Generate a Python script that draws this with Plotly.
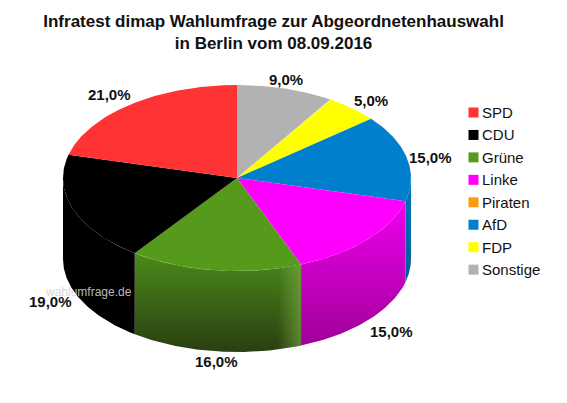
import numpy as np
import plotly.graph_objects as go

# Data (legend order)
parties = ["SPD", "CDU", "Grüne", "Linke", "Piraten", "AfD", "FDP", "Sonstige"]
values = [21.0, 19.0, 16.0, 15.0, 0.0, 15.0, 5.0, 9.0]
colors = ["#FF3333", "#000000", "#559A1A", "#FF00FF", "#FF9911", "#0080CC", "#FFFF00", "#B2B2B2"]
wall_top = {"Grüne": "#4B8A1A", "Linke": "#EE00EE", "AfD": "#0078BE", "CDU": "#000000"}
wall_bottom = {"Grüne": "#2A3F10", "Linke": "#A00098", "AfD": "#005E96", "CDU": "#000000"}

title_text = "Infratest dimap Wahlumfrage zur Abgeordnetenhauswahl<br>in Berlin vom 08.09.2016"
watermark = "wahlumfrage.de"

# Pie geometry in the pixel-like axis space
CX, CY, RX, RY, DEPTH = 237.0, 178.0, 174.0, 93.0, 81.0
# Label nudges from the rim point of each slice
NUDGE = {"SPD": (-21, -10), "CDU": (-23, 11), "Grüne": (1, 10), "Linke": (24, 11),
         "AfD": (24, 0), "FDP": (19, -8), "Sonstige": (0, -9)}
# Legend key placement
KEY_X, KEY_Y, KEY_ROW, KEY_TEXT_GAP = 473.5, 112.5, 22.45, 6.5


def rim(t_deg, dy=0.0):
    t = np.radians(t_deg)
    return CX + RX * np.sin(t), CY - RY * np.cos(t) + dy


# Slices run clockwise from 12 o'clock, in reverse legend order
order = [i for i in range(len(parties) - 1, -1, -1) if values[i] > 0]
spans = {}
acc = 0.0
for i in order:
    a0 = acc / sum(values) * 360
    acc += values[i]
    spans[i] = (a0, acc / sum(values) * 360)

fig = go.Figure()

# Side walls (front half only)
for i in order:
    a0, a1 = spans[i]
    lo, hi = max(a0, 90), min(a1, 270)
    if lo >= hi:
        continue
    ts = np.linspace(lo, hi, 80)
    xt, yt = rim(ts)
    xb, yb = rim(ts[::-1], DEPTH)
    name = parties[i]
    fig.add_trace(go.Scatter(
        x=np.r_[xt, xb], y=np.r_[yt, yb], mode="lines", line=dict(width=0),
        fill="toself", showlegend=False, hoverinfo="skip",
        fillgradient=dict(type="vertical",
                          colorscale=[[0, wall_bottom[name]], [1, wall_top[name]]]),
    ))

# Soft highlight on the right end of the green wall
a0 = spans[parties.index("Grüne")][0]
ts = np.linspace(a0, a0 + 8, 20)
xt, yt = rim(ts)
xb, yb = rim(ts[::-1], DEPTH)
fig.add_trace(go.Scatter(
    x=np.r_[xt, xb], y=np.r_[yt, yb], mode="lines", line=dict(width=0),
    fill="toself", showlegend=False, hoverinfo="skip",
    fillgradient=dict(type="horizontal",
                      colorscale=[[0, "rgba(125,175,70,0)"], [1, "rgba(125,175,70,0.6)"]]),
))

# Top faces
for i in order:
    a0, a1 = spans[i]
    ts = np.linspace(a0, a1, 100)
    xt, yt = rim(ts)
    fig.add_trace(go.Scatter(
        x=np.r_[CX, xt, CX], y=np.r_[CY, yt, CY], mode="lines", line=dict(width=0),
        fill="toself", fillcolor=colors[i], showlegend=False,
        name=parties[i], hoverinfo="name",
    ))

# Legend keys
for row, (name, color) in enumerate(zip(parties, colors)):
    y = KEY_Y + row * KEY_ROW
    fig.add_trace(go.Scatter(
        x=[KEY_X], y=[y], mode="markers", name=name, showlegend=False,
        marker=dict(symbol="square", size=10, color=color, line=dict(width=0)),
    ))
    fig.add_annotation(x=KEY_X, y=y, xshift=KEY_TEXT_GAP, xanchor="left", yanchor="middle",
                       showarrow=False, text=name,
                       font=dict(family="Liberation Sans", size=15, color="#111111"))

# Value labels
for i in order:
    a0, a1 = spans[i]
    mid = (a0 + a1) / 2
    front = 90 < mid < 270
    x, y = rim(mid, DEPTH if front else 0)
    dx, dy = NUDGE[parties[i]]
    fig.add_annotation(x=x, y=y, xshift=dx, yshift=-dy, showarrow=False,
                       text="<b>" + f"{values[i]:.1f}%".replace(".", ",") + "</b>",
                       font=dict(family="Liberation Sans", size=15, color="#111111"))

fig.add_annotation(x=88.5 / 567, y=1 - 292 / 403, xref="paper", yref="paper",
                   xanchor="center", yanchor="middle", showarrow=False, text=watermark,
                   font=dict(family="Liberation Sans", size=12, color="rgba(210,210,210,0.9)"))

fig.update_layout(
    width=567, height=403, autosize=False,
    margin=dict(l=0, r=0, t=0, b=0),
    paper_bgcolor="white", plot_bgcolor="white",
    showlegend=False,
    xaxis=dict(range=[0, 567], visible=False, fixedrange=True),
    yaxis=dict(range=[403, 0], visible=False, fixedrange=True),
    font=dict(family="Liberation Sans", color="#111111"),
    title=dict(text=f"<b>{title_text}</b>", x=0.4825, xanchor="center", y=0.933, yanchor="top",
               font=dict(family="Liberation Sans", size=17, color="#111111")),
)

fig.write_html("out.html", post_script="document.body.style.margin='0';",
               config=dict(displayModeBar=False))
